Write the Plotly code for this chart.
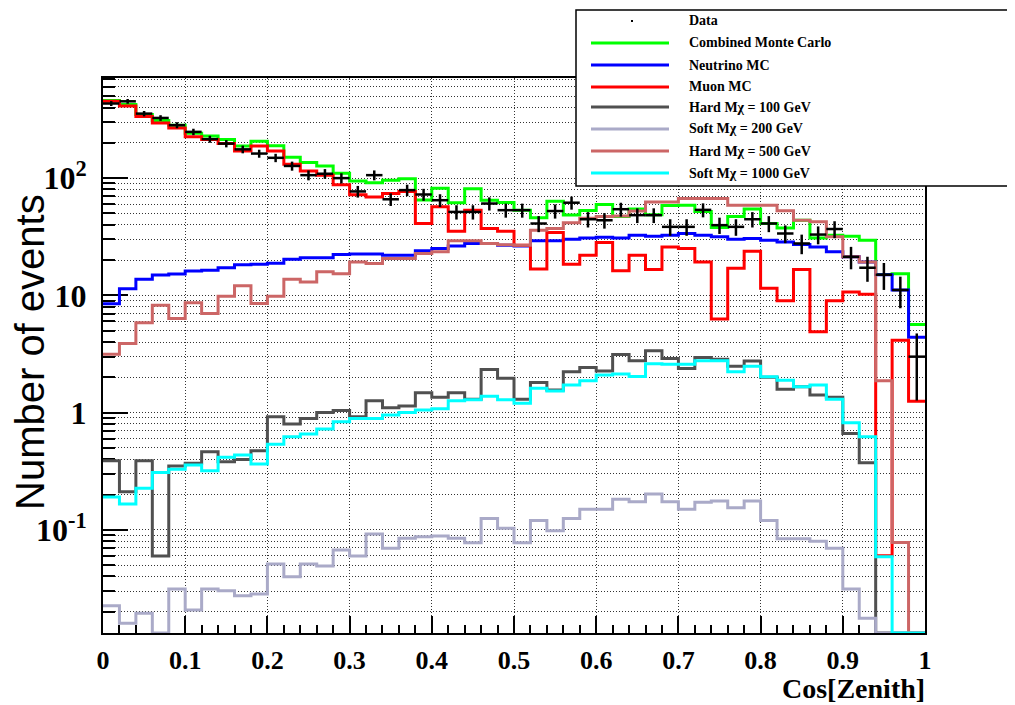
import numpy as np
import plotly.graph_objects as go

# ---------------- data ----------------
bin_edges = np.linspace(0.0, 1.0, 51)

data_counts = [433, 452, 355, 326, 283, 248, 215, 197, 176, 162, 149, 127, 106, 109, 100, 77, 106, 66, 79, 72.5,
               64.8, 51.5, 51.5, 60.7, 53.3, 53.3, 41, 52.4, 61.7, 44.6, 43.7, 54.3, 48.3, 48.3, 38.4, 38.4, 53.6, 39.7, 38.4, 44.6,
               41, 33.7, 27.7, 33, 36.8, 21.3, 17.2, 15, 11.1, 3.0]

combined_mc = [460, 424, 349, 310, 283, 241, 229, 214, 188, 206, 189, 151, 136, 127, 110, 94.5, 91.5, 96, 99, 65,
               82, 61.7, 81, 64.9, 62.1, 53.2, 46, 63.6, 48.5, 52.9, 59.5, 47.1, 54.6, 48.6, 58.5, 58.8, 51.9, 37.9, 47.1, 54.4,
               41.0, 37.5, 43.8, 30.8, 32.5, 32.0, 29.5, 15.06, 15.25, 5.65]

neutrino_mc = [8.5, 11.4, 13.7, 14.9, 15.2, 16.1, 16.4, 17.2, 18.2, 18.4, 18.8, 20.3, 20.9, 20.9, 22.3, 22.5, 22.5, 22.0, 22.0, 24.0,
               25.1, 26.4, 27.7, 27.7, 26.8, 26.4, 29.2, 29.2, 30.1, 30.9, 31.3, 30.9, 32.6, 32.0, 32.6, 33.7, 32.6, 31.6, 30.1, 30.6,
               29.5, 28.5, 27.2, 25.9, 23.5, 21.3, 19.3, 15.0, 11.1, 4.4]

muon_mc = [452, 413, 335, 295, 268, 225, 213, 197, 170, 188, 170, 131, 115, 106, 88, 72, 69, 74, 77, 41,
           57, 35.3, 53.3, 37.2, 35.3, 26.8, 16.8, 34.4, 18.4, 22.0, 28.2, 16.2, 22.0, 16.6, 25.9, 25.1, 19.3, 6.3, 17.0, 23.8,
           11.5, 9.0, 16.6, 4.9, 9.0, 10.7, 10.2, 0.06, 4.15, 1.25]

hard_100 = [0.388, 0.211, 0.388, 0.0598, 0.35, 0.369, 0.463, 0.381, 0.399, 0.472, 0.92, 0.798, 0.89, 1.0, 1.04, 0.92, 1.26, 1.1, 1.14, 1.48,
            1.35, 1.48, 1.3, 2.33, 1.96, 1.3, 1.81, 1.56, 2.23, 2.43, 2.26, 3.13, 2.77, 3.37, 2.9, 2.38, 2.95, 2.85, 2.49, 2.75,
            2.0, 1.58, 1.66, 1.41, 1.35, 0.664, 0.373, 0, 0, 0]

soft_200 = [0.0225, 0.016, 0.0194, 0, 0.0313, 0.0207, 0.0313, 0.0303, 0.0274, 0.0284, 0.0511, 0.0398, 0.0511, 0.0491, 0.0673, 0.0598, 0.092, 0.0695, 0.0846, 0.0873,
            0.0886, 0.0846, 0.0776, 0.125, 0.103, 0.0776, 0.12, 0.098, 0.125, 0.15, 0.15, 0.182, 0.174, 0.202, 0.174, 0.15, 0.172, 0.176, 0.154, 0.176,
            0.12, 0.084, 0.084, 0.08, 0.0695, 0.0313, 0.0176, 0, 0, 0]

hard_500 = [3.15, 3.89, 5.83, 8.25, 6.35, 8.63, 7.0, 9.84, 12.1, 8.53, 9.84, 13.7, 13.0, 15.9, 15.3, 19.3, 18.7, 20.6, 20.6, 22.8,
            23.5, 29.2, 29.2, 27.7, 27.0, 26.8, 36.0, 37.2, 41.6, 45.4, 47.0, 47.5, 52.4, 62.7, 62.7, 67.0, 67.0, 67.0, 58.7, 58.7,
            58.7, 52.8, 43.8, 42.4, 31.6, 21.3, 19.3, 1.87, 0.078, 0]

soft_1000 = [0.191, 0.166, 0.226, 0.309, 0.328, 0.357, 0.319, 0.415, 0.434, 0.364, 0.537, 0.622, 0.656, 0.723, 0.835, 0.892, 0.892, 0.952, 1.0, 1.05,
             1.08, 1.26, 1.29, 1.38, 1.29, 1.2, 1.61, 1.53, 1.72, 1.87, 2.09, 2.13, 2.03, 2.61, 2.59, 2.59, 2.77, 2.77, 2.23, 2.49,
             2.02, 1.89, 1.66, 1.72, 1.3, 0.819, 0.622, 0.059, 0, 0]

x_tick_vals = [0, 0.1, 0.2, 0.3, 0.4, 0.5, 0.6, 0.7, 0.8, 0.9, 1.0]
x_tick_text = ["0", "0.1", "0.2", "0.3", "0.4", "0.5", "0.6", "0.7", "0.8", "0.9", "1"]
y_tick_vals = [0.1, 1, 10, 100]
y_tick_text = ["10<sup>-1</sup>", "1", "10", "10<sup>2</sup>"]

series = [
    ("Combined Monte Carlo", combined_mc, "#00ff00"),
    ("Neutrino MC", neutrino_mc, "#0000ff"),
    ("Muon MC", muon_mc, "#ff0000"),
    ("Hard M\u03c7 = 100 GeV", hard_100, "#505050"),
    ("Soft M\u03c7 = 200 GeV", soft_200, "#aaaac8"),
    ("Hard M\u03c7 = 500 GeV", hard_500, "#cc6666"),
    ("Soft M\u03c7 = 1000 GeV", soft_1000, "#00ffff"),
]

# ---------------- layout geometry ----------------
# the page puts the figure 8 px from the top-left corner
OFF = 8
W, H = 1015 - OFF, 705 - OFF
PLOT_L, PLOT_R, PLOT_T, PLOT_B = 103, 925, 78, 633   # screen pixels of the frame
ML, MT = PLOT_L - OFF, PLOT_T - OFF
MR, MB = W - (PLOT_R - OFF), H - (PLOT_B - OFF)
PW, PH = PLOT_R - PLOT_L, PLOT_B - PLOT_T


def px(x):
    return (x - PLOT_L) / PW


def py(y):
    return (PLOT_B - y) / PH


YMIN_LOG, YMAX_LOG = -1.88, 2.854
floor = 10 ** YMIN_LOG

fig = go.Figure()
for name, vals, color in series:
    v = np.array(vals, dtype=float)
    v = np.where(v > floor, v, floor)
    y = np.append(v, v[-1])
    fig.add_trace(go.Scatter(x=bin_edges, y=y, mode="lines",
                             line=dict(color=color, width=3, shape="hv"),
                             name=name, showlegend=False, hoverinfo="skip"))

centers = (bin_edges[:-1] + bin_edges[1:]) / 2
d = np.array(data_counts, dtype=float)
fig.add_trace(go.Scatter(x=centers, y=d, mode="markers", name="Data", showlegend=False,
                         marker=dict(color="black", size=2),
                         error_y=dict(type="data", array=np.sqrt(d), color="black", thickness=2.5, width=0),
                         error_x=dict(type="constant", value=0.01, color="black", thickness=2.5, width=0)))

grid_col = "#333333"
grid_dash = "1px,2px"

fig.update_xaxes(range=[0, 1], tickmode="array", tickvals=x_tick_vals, ticktext=x_tick_text,
                 ticks="inside", ticklen=17, tickwidth=1.5, tickcolor="black",
                 minor=dict(tick0=0, dtick=0.02, ticks="inside", ticklen=8, tickwidth=1.5,
                            tickcolor="black", showgrid=False),
                 showgrid=True, gridcolor=grid_col, griddash=grid_dash, gridwidth=1,
                 showline=True, linecolor="black", linewidth=2, mirror=True,
                 zeroline=False, ticklabelstandoff=3, layer="below traces",
                 tickfont=dict(family="Liberation Serif", size=26, color="black", weight="bold"))

minor_y = [m * 10.0 ** e for e in range(-2, 3) for m in range(2, 10)]
fig.update_yaxes(type="log", range=[YMIN_LOG, YMAX_LOG], tickmode="array",
                 tickvals=y_tick_vals, ticktext=y_tick_text,
                 ticks="inside", ticklen=25, tickwidth=1.5, tickcolor="black",
                 minor=dict(tickmode="array", tickvals=minor_y, ticks="inside", ticklen=12,
                            tickwidth=1.5, tickcolor="black", showgrid=True,
                            gridcolor=grid_col, griddash=grid_dash, gridwidth=1),
                 showgrid=True, gridcolor=grid_col, griddash=grid_dash, gridwidth=1,
                 showline=True, linecolor="black", linewidth=2, mirror=True,
                 zeroline=False, ticklabelstandoff=8, layer="below traces",
                 tickfont=dict(family="Liberation Serif", size=32, color="black", weight="bold"))

annotations = [
    dict(text="Number of events", x=px(30), y=py(352), xref="paper", yref="paper",
         showarrow=False, textangle=-90, xanchor="center", yanchor="middle",
         font=dict(family="Liberation Sans", size=40, color="black")),
    dict(text="Cos[Zenith]", x=px(927), y=py(688), xref="paper", yref="paper",
         showarrow=False, xanchor="right", yanchor="middle",
         font=dict(family="Liberation Serif", size=28, color="black", weight="bold")),
]

shapes = [
    dict(type="rect", xref="paper", yref="paper", x0=px(576), x1=px(1013), y0=py(186), y1=py(10),
         fillcolor="white", line=dict(color="black", width=1.5), layer="above"),
    dict(type="rect", xref="paper", yref="paper", x0=px(631), x1=px(633), y0=py(22), y1=py(20),
         fillcolor="black", line=dict(width=0), layer="above"),
]

legend_rows = [("Data", None, 21)] + [(n, c, yy) for (n, _, c), yy in
                                       zip(series, [43, 65, 87, 107, 129, 151, 173])]
for name, color, yy in legend_rows:
    if color is not None:
        shapes.append(dict(type="line", xref="paper", yref="paper", x0=px(591), x1=px(669),
                           y0=py(yy), y1=py(yy), line=dict(color=color, width=3), layer="above"))
    annotations.append(dict(text=name, x=px(687), y=py(yy), xref="paper", yref="paper",
                            showarrow=False, xanchor="left", yanchor="middle",
                            font=dict(family="Liberation Serif", size=14, color="black", weight="bold")))

fig.update_layout(width=W, height=H, margin=dict(l=ML, r=MR, t=MT, b=MB, autoexpand=False),
                  paper_bgcolor="white", plot_bgcolor="white", showlegend=False,
                  annotations=annotations, shapes=shapes)

fig.write_html("out.html")
